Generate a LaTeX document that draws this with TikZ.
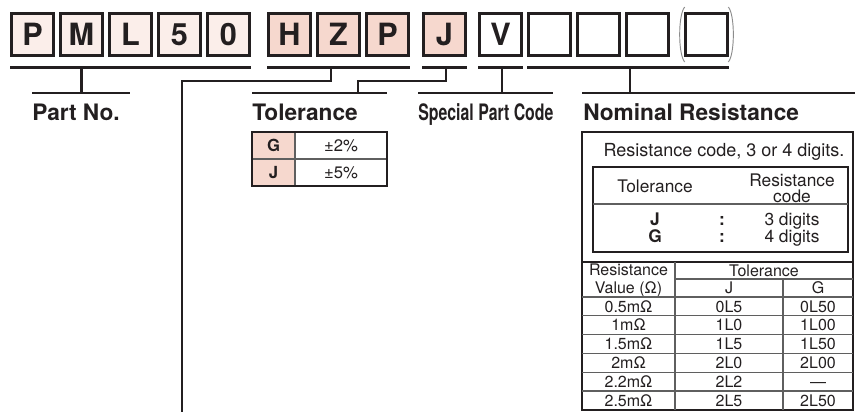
\documentclass[tikz,border=0pt]{standalone}
\usepackage{fontspec}
\setmainfont{TeX Gyre Heros}
\usepackage{graphicx}
\usetikzlibrary{positioning}
\definecolor{codeink}{RGB}{35,31,32}
\definecolor{partfill}{RGB}{251,238,234}
\definecolor{codefill}{RGB}{246,216,206}
\definecolor{rulegray}{RGB}{95,95,95}

\begin{document}
\begin{tikzpicture}[x=0.75pt, y=-0.75pt,
    node distance=3pt,
    digit/.style={rectangle, draw=codeink, line width=2.25pt, minimum size=31.5pt,
                  inner sep=0pt, text=codeink, font=\fontsize{23}{23}\selectfont\bfseries},
    partdigit/.style={digit, fill=partfill},
    codedigit/.style={digit, fill=codefill},
    blankdigit/.style={digit, fill=white},
    uline/.style={line width=2.25pt, draw=codeink},
    lead/.style={line width=1.7pt, draw=codeink},
    paren/.style={line width=0.7pt, draw=black!45},
    heading/.style={anchor=base west, inner sep=0pt, text=codeink,
                    font=\fontsize{17}{20}\selectfont\bfseries},
    tabframe/.style={line width=1.5pt, draw=codeink},
    rowrule/.style={line width=0.9pt, draw=rulegray},
    celltext/.style={anchor=base, inner sep=0pt, text=codeink,
                     font=\fontsize{12}{13.5}\selectfont},
    bigcell/.style={celltext, font=\fontsize{13}{12}\selectfont},
    keycell/.style={celltext, font=\fontsize{12.5}{14}\selectfont\bfseries}]
  \useasboundingbox (0,0) rectangle (855,412);
  % part number boxes
  \node[partdigit] (pa) at (32.5,34.5) {P};
  \node[partdigit, right=of pa] (pb) {M};
  \node[partdigit, right=of pb] (pc) {L};
  \node[partdigit, right=of pc] (pd) {5};
  \node[partdigit, right=of pd] (pe) {0};
  \node[codedigit, right=12pt of pe] (sa) {H};
  \node[codedigit, right=of sa] (sb) {Z};
  \node[codedigit, right=of sb] (sc) {P};
  \node[codedigit, right=9pt of sc] (tol) {J};
  \node[blankdigit, right=8.25pt of tol] (spc) {V};
  \node[blankdigit, right=of spc] (ra) {};
  \node[blankdigit, right=of ra] (rb) {};
  \node[blankdigit, right=of rb] (rc) {};
  \node[blankdigit, right=10.5pt of rc] (rd) {};
  \draw[paren] ([shift={(0.5pt,3.75pt)}]rd.north west) .. controls ([shift={(-4.5pt,-2pt)}]rd.north west) and ([shift={(-4.5pt,2pt)}]rd.south west) .. ([shift={(0.5pt,-3.75pt)}]rd.south west);
  \draw[paren] ([shift={(-0.5pt,3.75pt)}]rd.north east) .. controls ([shift={(4.5pt,-2pt)}]rd.north east) and ([shift={(4.5pt,2pt)}]rd.south east) .. ([shift={(-0.5pt,-3.75pt)}]rd.south east);
  % group underlines
  \draw[uline] ([yshift=-7.5pt]pa.south west) -- ([yshift=-7.5pt]pe.south east);
  \draw[uline] ([yshift=-7.5pt]sa.south west) -- ([yshift=-7.5pt]sc.south east);
  \draw[uline] ([yshift=-7.5pt]tol.south west) -- ([yshift=-7.5pt]tol.south east);
  \draw[uline] ([yshift=-7.5pt]spc.south west) -- ([yshift=-7.5pt]spc.south east);
  \draw[uline] ([yshift=-7.5pt]ra.south west) -- ([yshift=-7.5pt]rd.south east);
  % label bars and leads
  \coordinate (pnbarL) at (32,93);   \coordinate (pnbarR) at (130,93);
  \coordinate (tolbarL) at (252,93); \coordinate (tolbarR) at (387,93);
  \coordinate (spcbarL) at (418,93); \coordinate (spcbarR) at (553,93);
  \coordinate (nombarL) at (582,93); \coordinate (nombarR) at (855,93);
  \coordinate (serturn) at (182,81); \coordinate (serfoot) at (182,412);
  \coordinate (tolturn) at (358,81); \coordinate (nomtap) at (630,67);
  \draw[lead] (pnbarL) -- (pnbarR);
  \draw[lead] (tolbarL) -- (tolbarR);
  \draw[lead] (spcbarL) -- (spcbarR);
  \draw[lead] (nombarL) -- (nombarR);
  \draw[lead] ([yshift=-7.5pt]pb.south) -- (pb.south |- pnbarL);
  \draw[lead] ([shift={(-5.6pt,-7.5pt)}]sb.south) |- (serturn) -- (serfoot);
  \draw[lead] ([shift={(1pt,-7.5pt)}]tol.south) |- (tolturn) -- (tolturn |- tolbarL);
  \draw[lead] ([shift={(1pt,-7.5pt)}]spc.south) -- ([xshift=1pt]spc.south |- spcbarL);
  \draw[lead] (nomtap) -- (nomtap |- nombarL);
  \node[heading] (partno) at (32,120) {Part No.};
  \node[heading] (tolhead) at (252,120) {Tolerance};
  \node[heading] (spchead) at (418,120) {\scalebox{0.7}[1]{Special Part Code}};
  \node[heading] (nomhead) at (583,120) {Nominal Resistance};
  % tolerance table
  \fill[codefill] (252,132) rectangle (295,186);
  \draw[rowrule] (252,159) -- (387,159);
  \draw[rowrule] (295,132) -- (295,186);
  \draw[tabframe] (252,132) rectangle (387,186);
  \node[keycell] (tolG) at (273.5,151.5) {G};
  \node[celltext, font=\fontsize{12.5}{14}\selectfont] (tolGv) at (341,151.5) {±2\%};
  \node[keycell] (tolJ) at (273.5,178.5) {J};
  \node[celltext, font=\fontsize{12.5}{14}\selectfont] (tolJv) at (341,178.5) {±5\%};
  % nominal resistance table
  \draw[tabframe] (582,132) rectangle (853,410);
  \node[celltext, font=\fontsize{13.5}{15}\selectfont] (rcnote) at (724,156.5) {Resistance code, 3 or 4 digits.};
  \draw[line width=1.8pt, draw=codeink] (593,167) rectangle (848,252);
  \draw[rowrule] (593,204) -- (848,204);
  \node[bigcell] (thead) at (655,192) {Tolerance};
  \node[bigcell, anchor=center, align=center] (chead) at (792,188) {Resistance\\code};
  \node[bigcell, font=\fontsize{13}{15}\selectfont\bfseries] (jkey) at (655,225) {J};
  \node[bigcell, font=\fontsize{13}{15}\selectfont\bfseries] (jsep) at (722,225) {:};
  \node[bigcell] (jdig) at (792,225) {3 digits};
  \node[bigcell, font=\fontsize{13}{15}\selectfont\bfseries] (gkey) at (655,242) {G};
  \node[bigcell, font=\fontsize{13}{15}\selectfont\bfseries] (gsep) at (722,242) {:};
  \node[bigcell] (gdig) at (792,242) {4 digits};
  \draw[tabframe] (582,262) -- (853,262);
  \draw[rowrule] (675,262) -- (675,410);
  \draw[rowrule] (675,279) -- (853,279);
  \draw[rowrule] (783,279) -- (783,410);
  \node[celltext] (rvhead) at (628.5,275) {Resistance};
  \node[celltext] (rvunit) at (628.5,293) {Value (Ω)};
  \node[celltext] (tlhead) at (764,276) {Tolerance};
  \node[celltext] (jhead) at (729,293.5) {J};
  \node[celltext] (ghead) at (818,293.5) {G};
  \foreach \val/\jcode/\gcode [count=\i] in {0.5mΩ/0L5/0L50, 1mΩ/1L0/1L00,
      1.5mΩ/1L5/1L50, 2mΩ/2L0/2L00, 2.2mΩ/2L2/—, 2.5mΩ/2L5/2L50} {
    \draw[rowrule] (582,{278.2+18.8*\i}) -- (853,{278.2+18.8*\i});
    \node[celltext] (val\i) at (628.5,{293.3+18.8*\i}) {\val};
    \node[celltext] (jc\i) at (729,{293.3+18.8*\i}) {\jcode};
    \node[celltext] (gc\i) at (818,{293.3+18.8*\i}) {\gcode};
  }
\end{tikzpicture}
\end{document}
